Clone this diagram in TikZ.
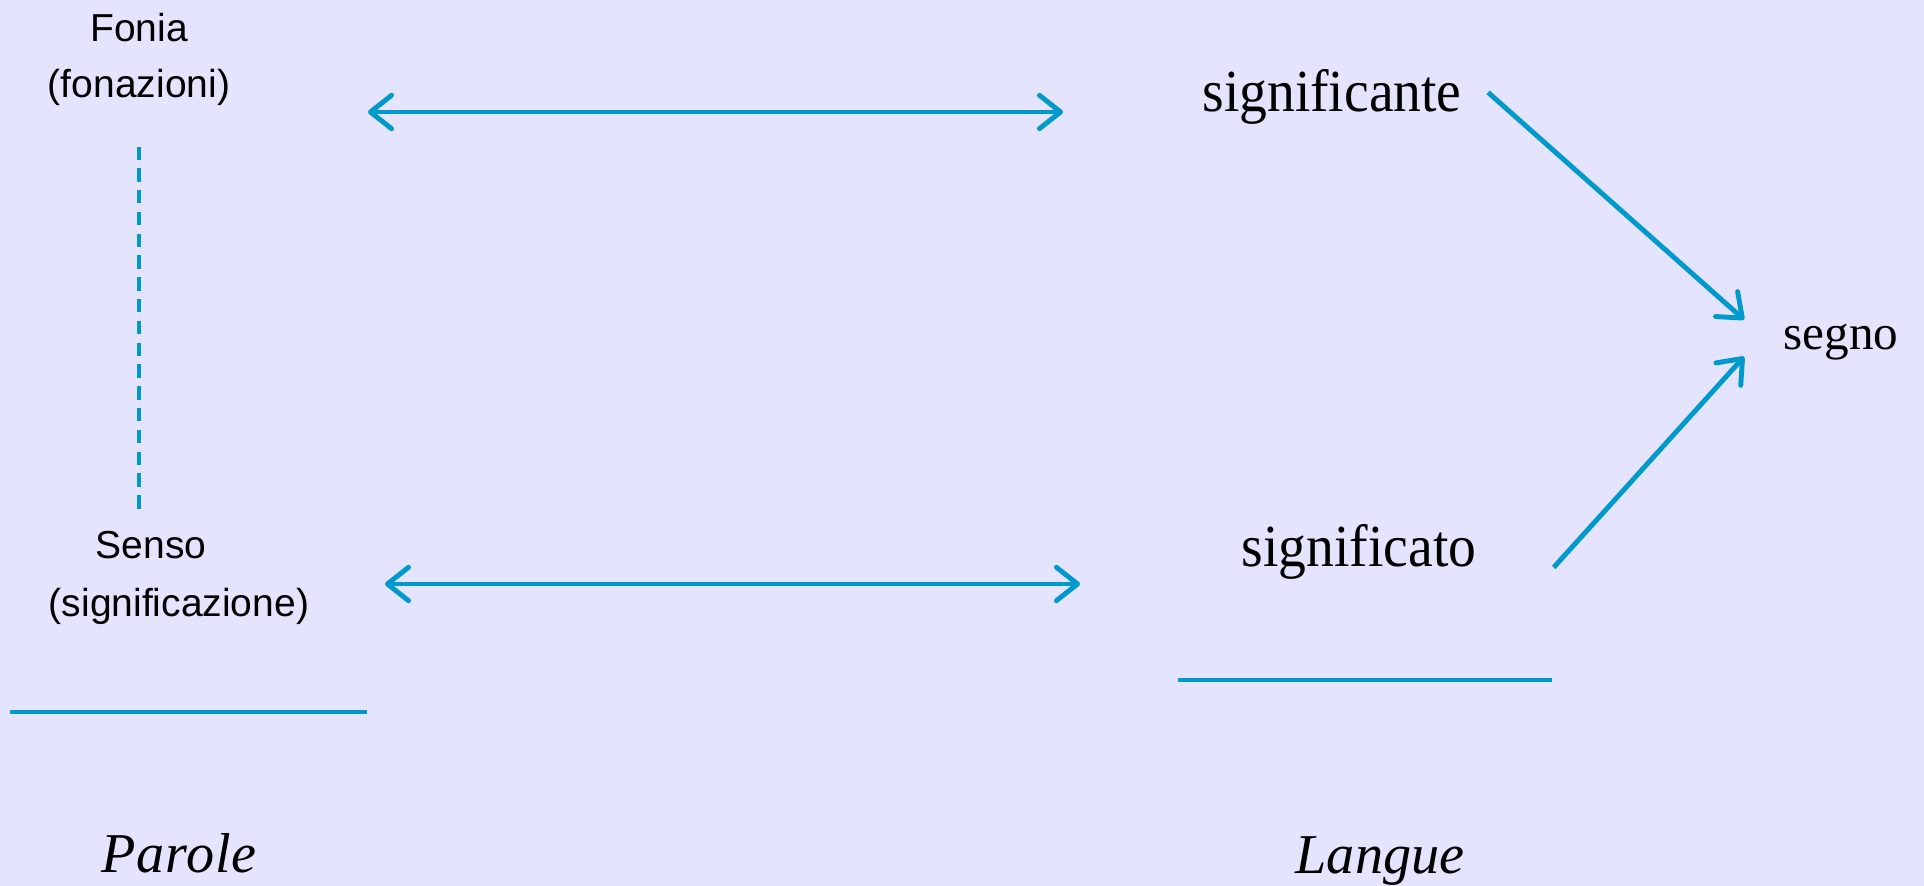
\documentclass[tikz,border=0pt]{standalone}
\usepackage{fontspec}
\setmainfont{Liberation Serif}
\newfontfamily\arialf{Liberation Sans}
\usetikzlibrary{arrows.meta}
\definecolor{bg}{RGB}{228,228,254}
\definecolor{link}{RGB}{0,153,204}
\tikzset{
  tip/.style={arrows={-Straight Barb[length=6pt,width=9.5pt,round]}},
  twotip/.style={arrows={Straight Barb[length=6pt,width=9.5pt,round]-Straight Barb[length=6pt,width=9.5pt,round]}},
  sanslbl/.style={inner sep=0pt, anchor=base, font=\arialf\fontsize{11.1}{13}\selectfont},
  seriflbl/.style={inner sep=0pt, anchor=base, font=\fontsize{17}{20}\selectfont},
  termlbl/.style={inner sep=0pt, anchor=base, font=\itshape\fontsize{16}{19}\selectfont}
}

\begin{document}
\begin{tikzpicture}[line width=1.4pt]
  % background
  \fill[bg] (0,0) rectangle (19.24,8.86);
  \useasboundingbox (0,0) rectangle (19.24,8.86);

  % Parole
  \node[sanslbl] (fonia) at (1.39,8.44) {Fonia};
  \node[sanslbl] (fonaz) at (1.39,7.88) {(fonazioni)};
  \node[sanslbl] (senso) at (1.51,3.27) {Senso};
  \node[sanslbl] (sigz) at (1.79,2.69) {(significazione)};
  \node[termlbl] (parole) at (1.79,0.13) {\addfontfeature{LetterSpace=1.5}Parole};

  % Langue
  \node[seriflbl] (sigante) at (13.32,7.74) {\scalebox{0.93}[1]{significante}};
  \node[seriflbl] (sigato) at (13.59,3.19) {\scalebox{0.93}[1]{significato}};
  \node[inner sep=0pt, anchor=base, font=\fontsize{14}{17}\selectfont] (segno) at (18.41,5.36) {segno};
  \node[termlbl] (langue) at (13.80,0.12) {Langue};

  % arrow ends
  \coordinate (fonR) at (3.68,7.74);
  \coordinate (sigL) at (10.63,7.74);
  \coordinate (sensR) at (3.85,3.02);
  \coordinate (sigoL) at (10.80,3.02);
  \coordinate (pl) at (0.10,1.74);
  \coordinate (pr) at (3.67,1.74);
  \coordinate (ll) at (11.78,2.06);
  \coordinate (lr) at (15.52,2.06);

  % Links
  \draw[link, dash pattern=on 3.8pt off 2.4pt]
    ([yshift=-0.38cm]fonaz.south) -- ([yshift=0.15cm]fonaz.south |- senso.north);
  \draw[link, twotip] (fonR) -- (sigL);
  \draw[link, twotip] (sensR) -- (sigoL);
  \draw[link, tip] ([shift={(0.24,0.05)}]sigante.east) -- ([shift={(-0.37,0.23)}]segno.west);
  \draw[link, tip] ([shift={(0.75,-0.15)}]sigato.east) -- ([shift={(-0.37,-0.14)}]segno.west);

  % Underlines
  \draw[link] (pl) -- (pr);
  \draw[link] (ll) -- (lr);
\end{tikzpicture}
\end{document}
